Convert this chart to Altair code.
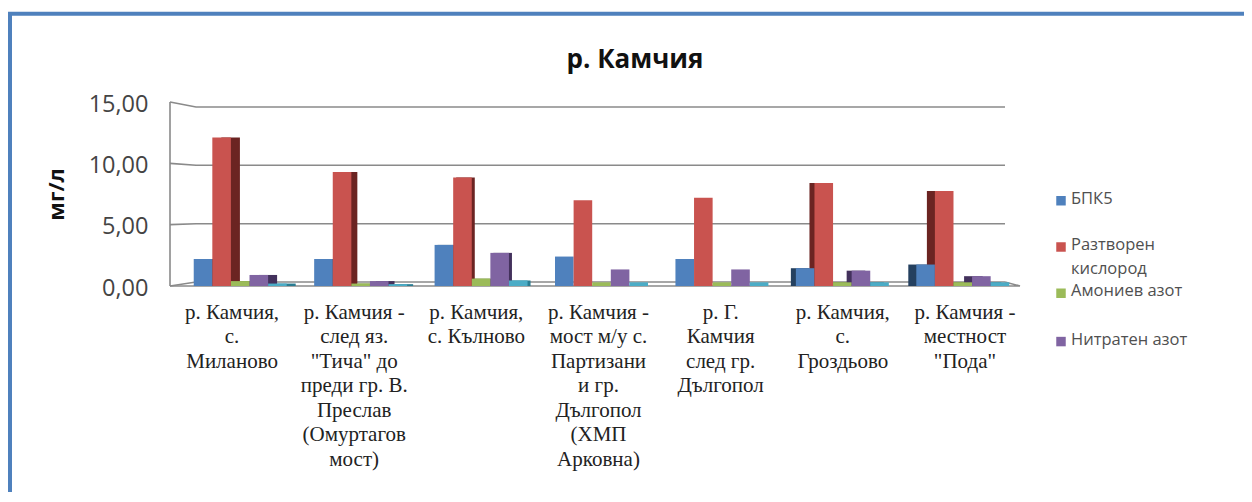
import altair as alt
import pandas as pd

groups = ['р. Камчия,|с.|Миланово',
          'р. Камчия -|след яз.|"Тича"   до|преди гр. В.|Преслав|(Омуртагов|мост)',
          'р. Камчия,|с. Кълново',
          'р. Камчия -|мост м/у с.|Партизани|и гр.|Дългопол|(ХМП|Арковна)',
          'р. Г.|Камчия|след гр.|Дългопол',
          'р. Камчия,|с.|Гроздьово',
          'р. Камчия -|местност|"Пода"']
series = ['БПК5', 'Разтворен кислород', 'Амониев азот', 'Нитратен азот', 'Серия 5']
legend_labels = ['БПК5', 'Разтворен|кислород', 'Амониев азот', 'Нитратен азот']
legend_level = [6.95, 3.18, -0.59, -4.53]
bpk5 = [2.2, 2.2, 3.35, 2.4, 2.2, 1.45, 1.75]
oxygen = [12.1, 9.3, 8.85, 7.0, 7.2, 8.4, 7.75]
ammonium = [0.4, 0.2, 0.6, 0.3, 0.3, 0.3, 0.3]
nitrate = [0.9, 0.4, 2.7, 1.35, 1.35, 1.25, 0.8]
fifth = [0.2, 0.15, 0.45, 0.3, 0.3, 0.3, 0.3]
values = [bpk5, oxygen, ammonium, nitrate, fifth]
front_colors = ['#4f81bd', '#c9534f', '#9bbb59', '#8064a2', '#4bacc6']
side_colors = ['#24405f', '#6b2422', '#5f7a2c', '#43315c', '#2a7c92']
side_px = [9, 6, 3, 0, 0, -5, -8]

wall_front = [0, 5, 10, 15]
wall_back = [0.33, 5.08, 9.84, 14.59]
wall_x = [0, 26, 835]

W, H = 860, 184
rows = [dict(group=g, series=s, value=values[j][i], side=side_colors[j], g=i)
        for j, s in enumerate(series) for i, g in enumerate(groups)]
df = pd.DataFrame(rows)

wall_rows = []
for f, b in zip(wall_front, wall_back):
    wall_rows += [dict(level=f'w{f}', wx=wall_x[0], y=f, o=0), dict(level=f'w{f}', wx=wall_x[1], y=b, o=1),
                  dict(level=f'w{f}', wx=wall_x[2], y=b, o=2)]
wall_rows += [dict(level='floor', wx=wall_x[2], y=wall_back[0], o=0), dict(level='floor', wx=850, y=0, o=1),
              dict(level='floor', wx=0, y=0, o=2),
              dict(level='left', wx=0, y=0, o=0), dict(level='left', wx=0, y=15, o=1)]
wall = pd.DataFrame(wall_rows)

frame = pd.DataFrame({'wx': [-160, -160, 1082], 'y': [-17, 22.2, 22.2], 'o': [0, 1, 2]})
leg = pd.DataFrame({'label': legend_labels, 'series': series[:4], 'y': legend_level,
                    'sx': [891] * 4, 'tx': [901] * 4})

yscale = alt.Scale(domain=[0, 15], range=[H, 0], nice=False)
wxscale = alt.Scale(domain=[0, W], range=[0, W], nice=False, zero=False)


def bar_x(shift=0):
    return alt.X('group:N', sort=groups, axis=None,
                 scale=alt.Scale(domain=groups, range=[10 + shift, 853 + shift],
                                 paddingInner=0.228, paddingOuter=0.114))


bar_off = alt.XOffset('series:N', sort=series, scale=alt.Scale(domain=series))
color_scale = alt.Scale(domain=series, range=front_colors)

y_axis = alt.Axis(values=wall_front, grid=False, domain=False, ticks=False,
                  labelExpr="replace(format(datum.value,'.2f'),'.',',')",
                  labelFont='Open Sans', labelFontSize=23.5, labelColor='#444444', labelPadding=22,
                  labelOffset=2,
                  titleFont='Open Sans', titleFontSize=22, titleFontWeight='bold',
                  titleColor='#111111', titlePadding=20)

frame_l = alt.Chart(frame).mark_line(color='#4f81bd', strokeWidth=4, clip=False).encode(
    x=alt.X('wx:Q', scale=wxscale, axis=None),
    y=alt.Y('y:Q', scale=yscale, axis=y_axis, title='мг/л'), order='o:O')
wall_l = alt.Chart(wall).mark_line(color='#8a8a8a', strokeWidth=1.6).encode(
    x=alt.X('wx:Q', scale=wxscale, axis=None),
    y=alt.Y('y:Q', scale=yscale), detail='level:N', order='o:O')

side_layers = []
for i, s in enumerate(side_px):
    if s == 0:
        continue
    side_layers.append(
        alt.Chart(df[df.g == i]).mark_bar().encode(
            x=bar_x(s), xOffset=bar_off,
            y=alt.Y('value:Q', scale=yscale),
            color=alt.Color('side:N', scale=None)))

fronts = alt.Chart(df).mark_bar().encode(
    x=bar_x(), xOffset=bar_off,
    y=alt.Y('value:Q', scale=yscale),
    color=alt.Color('series:N', sort=series, scale=color_scale, legend=None))

labels = alt.Chart(pd.DataFrame({'group': groups})).mark_bar(opacity=0).encode(
    x=alt.X('group:N', sort=groups, title=None,
            scale=alt.Scale(domain=groups, range=[1, 856]),
            axis=alt.Axis(domain=False, ticks=False, labelAngle=0, labelFont='Liberation Serif',
                          labelFontSize=21, labelColor='#222222', labelLineHeight=24.5, labelPadding=15,
                          labelLimit=0, labelBaseline='top', labelOverlap=False,
                          labelExpr="split(datum.label,'|')")))

leg_sym = alt.Chart(leg).mark_square(size=90, opacity=1).encode(
    x=alt.X('sx:Q', scale=wxscale, axis=None), y=alt.Y('y:Q', scale=yscale),
    color=alt.Color('series:N', sort=series, scale=color_scale, legend=None))
leg_txt = alt.Chart(leg).mark_text(align='left', baseline='top', dy=-10, lineBreak='|', lineHeight=24,
                                   font='Open Sans', fontSize=16.5, color='#505050').encode(
    x=alt.X('tx:Q', scale=wxscale, axis=None), y=alt.Y('y:Q', scale=yscale), text='label:N')

chart = alt.layer(frame_l, wall_l, *side_layers, fronts, labels, leg_sym, leg_txt).resolve_scale(
    x='independent', color='independent').properties(
    width=W, height=H,
    padding={'left': 162, 'top': 94, 'right': 214, 'bottom': 206},
    autosize=alt.AutoSizeParams(type='none'),
    title=alt.TitleParams('р. Камчия', font='Open Sans', fontSize=26, fontWeight='bold', color='#111111',
                          anchor='middle', dx=35, offset=0, dy=67),
).configure_view(stroke=None)

chart.save('out.html', embed_options={'renderer': 'svg', 'actions': False})
